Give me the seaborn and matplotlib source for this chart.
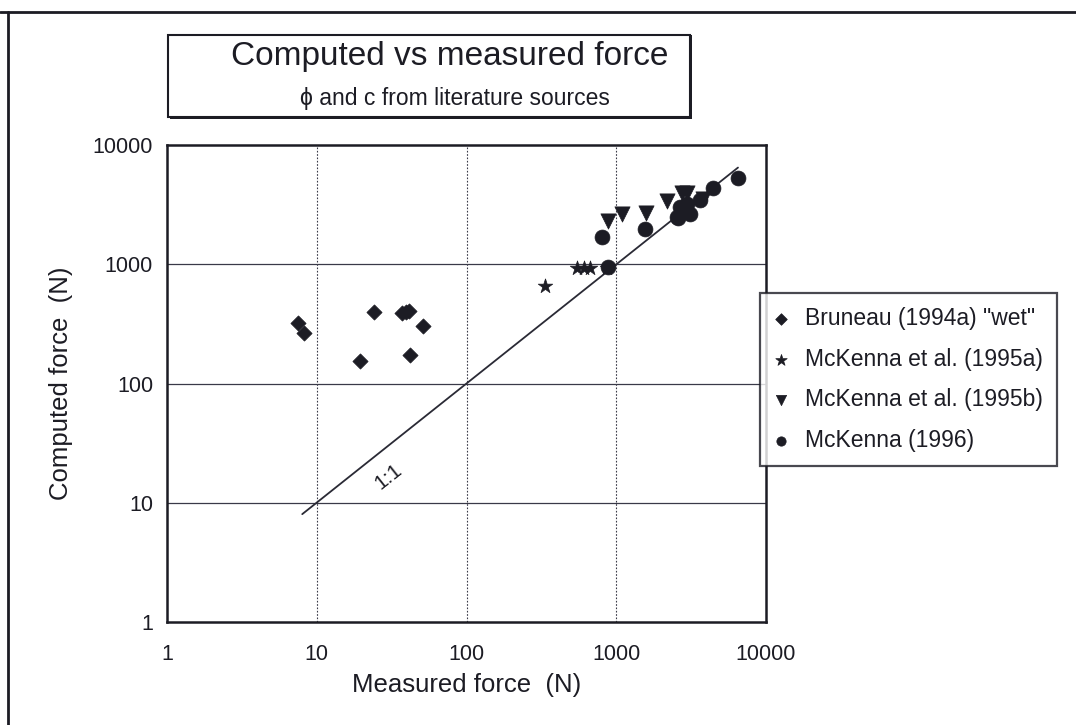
import numpy as np
import pandas as pd
import matplotlib
matplotlib.use("Agg")
import matplotlib.pyplot as plt
import seaborn as sns
from matplotlib.lines import Line2D
from matplotlib.patches import Rectangle
from matplotlib.ticker import FixedLocator, NullLocator, FixedFormatter

# ---------------- data ----------------
bruneau_measured = [7.5, 8.2, 24, 37, 39.5, 41.5, 51, 19.3, 42]
bruneau_computed = [320, 265, 400, 390, 400, 410, 305, 155, 172]
mck95a_measured = [336, 547, 606, 671, 870]
mck95a_computed = [656, 930, 935, 930, 925]
mck95b_measured = [875, 1100, 1580, 2180, 2740, 2960, 3820]
mck95b_computed = [2300, 2640, 2700, 3430, 3940, 3940, 3575]
mck96_measured = [800, 875, 1545, 2540, 2580, 2670, 2960, 3115, 3630, 4450, 6530]
mck96_computed = [1700, 960, 2000, 2505, 2470, 3040, 3240, 2673, 3460, 4400, 5270]
series_labels = ['Bruneau (1994a) "wet"', 'McKenna et al. (1995a)',
                 'McKenna et al. (1995b)', 'McKenna (1996)']
one_to_one = [8, 6500]
ticks = [1, 10, 100, 1000, 10000]
tick_labels = ["1", "10", "100", "1000", "10000"]

# ---------------- style ----------------
sns.set_style("white")
plt.rcParams['font.family'] = ['Liberation Sans', 'DejaVu Sans']

W, H = 1076, 725
fig = plt.figure(figsize=(W / 100, H / 100), dpi=100)
fig.patch.set_facecolor("white")

def fx(px):
    return px / W

def fy(py):
    return 1 - py / H

ax_l, ax_r, ax_t, ax_b = 167, 766, 145.3, 621.7
ax = fig.add_axes([fx(ax_l), fy(ax_b), fx(ax_r - ax_l), (ax_b - ax_t) / H])

ink = "#1c1c24"
sets = [
    (bruneau_measured, bruneau_computed, "D", 60, 35),
    (mck95a_measured, mck95a_computed, "*", 120, 75),
    (mck95b_measured, mck95b_computed, "v", 120, 55),
    (mck96_measured, mck96_computed, "o", 115, 45),
]
for (xs, ys, mk, s, _), lab in zip(sets, series_labels):
    df = pd.DataFrame({"measured": xs, "computed": ys})
    sns.scatterplot(data=df, x="measured", y="computed", marker=mk, s=s,
                    color=ink, edgecolor=ink, linewidth=0.5, ax=ax,
                    label=lab, zorder=4)

# 1:1 line
sns.lineplot(x=one_to_one, y=one_to_one, color="#2a2a35", linewidth=1.3,
             ax=ax, zorder=3, legend=False)
ax.text(30, 16.5, "1:1", rotation=38.4, ha="center", va="center",
        fontsize=15, color=ink, rotation_mode="anchor")

ax.set_xscale("log")
ax.set_yscale("log")
ax.set_xlim(1, 10000)
ax.set_ylim(1, 10000)
ax.xaxis.set_major_locator(FixedLocator(ticks))
ax.yaxis.set_major_locator(FixedLocator(ticks))
ax.xaxis.set_major_formatter(FixedFormatter(tick_labels))
ax.yaxis.set_major_formatter(FixedFormatter(tick_labels))
ax.xaxis.set_minor_locator(NullLocator())
ax.yaxis.set_minor_locator(NullLocator())
ax.tick_params(axis="both", length=0, labelsize=15.5, colors=ink)
ax.tick_params(axis="x", pad=16)
ax.tick_params(axis="y", pad=10)

# grid: horizontal solid, vertical dotted
ax.grid(False)
for t in ticks[1:-1]:
    ax.axhline(t, color="#3a3a48", linewidth=0.9, zorder=1)
    ax.axvline(t, color="#3a3a48", linewidth=0.8, linestyle=(0, (1.5, 1.5)), zorder=1)

for sp in ax.spines.values():
    sp.set_visible(True)
    sp.set_color(ink)
    sp.set_linewidth(1.8)

ax.set_xlabel("Measured force  (N)", fontsize=18.5, color=ink, labelpad=6)
ax.set_ylabel("Computed force  (N)", fontsize=18.5, color=ink, labelpad=14)

# legend
handles, labels = ax.get_legend_handles_labels()
if ax.get_legend():
    ax.get_legend().remove()
leg = fig.legend(handles, labels, loc="upper left",
                 bbox_to_anchor=(fx(760), fy(468), fx(1057 - 760), (468 - 293) / H),
                 mode="expand", frameon=True, fancybox=False, shadow=False,
                 fontsize=16.5, markerscale=1.0, handlelength=0.6,
                 handletextpad=0.75, labelspacing=0.78, borderpad=0.6,
                 borderaxespad=0)
for h, (_, _, _, _, ls) in zip(leg.legend_handles, sets):
    h.set_sizes([ls])
leg.get_frame().set_edgecolor(ink)
leg.get_frame().set_linewidth(1.6)
for t in leg.get_texts():
    t.set_color(ink)

# title box
fig.add_artist(Rectangle((fx(170), fy(119)), fx(690 - 168), (119 - 35) / H,
                         transform=fig.transFigure, facecolor=ink,
                         edgecolor="none", zorder=0))
fig.add_artist(Rectangle((fx(168), fy(117)), fx(690 - 168), (117 - 35) / H,
                         transform=fig.transFigure, facecolor="white",
                         edgecolor=ink, linewidth=1.5, zorder=1))
fig.text(fx(450), fy(57), "Computed vs measured force", ha="center",
         va="center", fontsize=24, color=ink, zorder=2)
fig.text(fx(455), fy(98), "\u03d5 and c from literature sources", ha="center",
         va="center", fontsize=16.5, color=ink, zorder=2)

# outer frame lines
fig.add_artist(Line2D([0, 1], [fy(12), fy(12)], transform=fig.transFigure,
                      color=ink, linewidth=2))
fig.add_artist(Line2D([fx(8), fx(8)], [fy(12), 0], transform=fig.transFigure,
                      color=ink, linewidth=2))

fig.savefig("out.png", dpi=100, facecolor="white")
